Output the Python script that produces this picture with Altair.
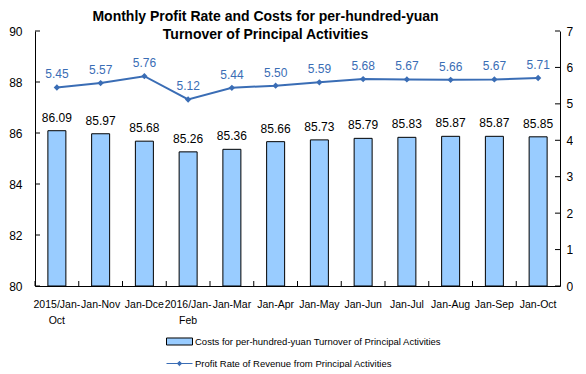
import altair as alt
import pandas as pd

categories = ["2015/Jan-\nOct", "Jan-Nov", "Jan-Dce", "2016/Jan-\nFeb", "Jan-Mar", "Jan-Apr",
              "Jan-May", "Jan-Jun", "Jan-Jul", "Jan-Aug", "Jan-Sep", "Jan-Oct"]
costs = [86.09, 85.97, 85.68, 85.26, 85.36, 85.66, 85.73, 85.79, 85.83, 85.87, 85.87, 85.85]
profit_rate = [5.45, 5.57, 5.76, 5.12, 5.44, 5.50, 5.59, 5.68, 5.67, 5.66, 5.67, 5.71]
left_ticks = [80, 82, 84, 86, 88, 90]
right_ticks = [0, 1, 2, 3, 4, 5, 6, 7]

bar_name = "Costs for per-hundred-yuan Turnover of Principal Activities"
line_name = "Profit Rate of Revenue from Principal Activities"

df = pd.DataFrame({"cat": categories, "cost": costs, "rate": profit_rate,
                   "bar": bar_name, "line": line_name})
lt = pd.DataFrame({"v": left_ticks})
rt = pd.DataFrame({"v": right_ticks})

W, H = 525, 255
FONT = "Liberation Sans"
BLUE = "#3a6db5"

xaxis = alt.Axis(title=None, labelAngle=0, labelFontSize=10.5, labelFont=FONT,
                 labelColor="black", labelPadding=13, labelLineHeight=16,
                 labelExpr="split(datum.label, '\\n')", labelLimit=200,
                 labelOverlap=False, ticks=False, domainColor="black", grid=False)
xenc = alt.X("cat:N", sort=categories, scale=alt.Scale(paddingInner=0, paddingOuter=0),
             axis=xaxis)

yl_scale = alt.Scale(domain=[80, 90], zero=False, nice=False)
yr_scale = alt.Scale(domain=[0, 7], nice=False)
yl_axis = alt.Axis(title=None, values=left_ticks, orient="left", ticks=False,
                   labelPadding=13, labelFontSize=12, labelFont=FONT, labelOverlap=False,
                   labelColor="black", domainColor="black", grid=False)
yr_axis = alt.Axis(title=None, values=right_ticks, orient="right", ticks=False,
                   labelPadding=6, labelFontSize=12, labelFont=FONT, labelOverlap=False,
                   labelColor="black", domainColor="black", grid=False)

base = alt.Chart(df)

bars = base.mark_bar(size=18, stroke="black", strokeWidth=1).encode(
    x=xenc,
    y=alt.Y("cost:Q", scale=yl_scale, axis=yl_axis),
    y2=alt.datum(80),
    fill=alt.Fill("bar:N", scale=alt.Scale(range=["#99ccff"]),
                  legend=alt.Legend(title=None, orient="none", legendX=131, legendY=297,
                                    symbolType="M-1,-0.27H1V0.27H-1Z", symbolSize=676,
                                    symbolStrokeColor="black", symbolStrokeWidth=1,
                                    labelFontSize=9.5, labelFont=FONT, labelColor="black",
                                    labelOffset=2, labelLimit=400, padding=0)),
)
bar_text = base.mark_text(baseline="alphabetic", dy=-9, fontSize=12, font=FONT,
                          color="black").encode(
    x=xenc,
    y=alt.Y("cost:Q", scale=yl_scale, axis=yl_axis),
    text=alt.Text("cost:Q", format=".2f"),
)
lticks = alt.Chart(lt).mark_rule(color="black").encode(
    y=alt.Y("v:Q", scale=yl_scale, axis=yl_axis), x=alt.value(0), x2=alt.value(5))
bticks = base.mark_rule(color="black").encode(
    x=alt.X("cat:N", sort=categories, bandPosition=0,
            scale=alt.Scale(paddingInner=0, paddingOuter=0), axis=xaxis),
    y=alt.value(H), y2=alt.value(H - 5))

left = alt.layer(bars, bar_text, lticks, bticks)

line = base.mark_line(strokeWidth=2).encode(
    x=xenc,
    y=alt.Y("rate:Q", scale=yr_scale, axis=yr_axis),
    stroke=alt.Stroke("line:N", scale=alt.Scale(range=[BLUE]),
                      legend=alt.Legend(title=None, orient="none", legendX=131, legendY=319,
                                        symbolType="M-1,0H1M-0.17,0L0,-0.17L0.17,0L0,0.17Z",
                                        symbolSize=676, symbolStrokeWidth=1,
                                        symbolFillColor=BLUE,
                                        labelFontSize=9.5, labelFont=FONT, labelColor="black",
                                        labelOffset=2, labelLimit=400, padding=0)),
)
pts = base.mark_point(shape="diamond", filled=True, size=40, color=BLUE, opacity=1).encode(
    x=xenc,
    y=alt.Y("rate:Q", scale=yr_scale, axis=yr_axis),
)
line_text = base.mark_text(baseline="alphabetic", dy=-9, fontSize=12, font=FONT,
                           color=BLUE).encode(
    x=xenc,
    y=alt.Y("rate:Q", scale=yr_scale, axis=yr_axis),
    text=alt.Text("rate:Q", format=".2f"),
)
rticks = alt.Chart(rt).mark_rule(color="black").encode(
    y=alt.Y("v:Q", scale=yr_scale, axis=yr_axis), x=alt.value(W), x2=alt.value(W - 5))

right = alt.layer(line, pts, line_text, rticks)

chart = alt.layer(left, right).resolve_scale(y="independent").properties(
    width=W, height=H,
    padding={"left": 0, "top": 2, "right": 0, "bottom": 0},
    title=alt.TitleParams(
        text=["Monthly Profit Rate and Costs for per-hundred-yuan",
              "Turnover of Principal Activities"],
        font=FONT, fontSize=14, fontWeight="bold", lineHeight=18,
        color="black", anchor="middle", dx=-32, offset=-17),
).configure_view(stroke=None).configure_axis(domainWidth=1)

chart.save("out.html", embed_options={"renderer": "svg", "actions": False})
